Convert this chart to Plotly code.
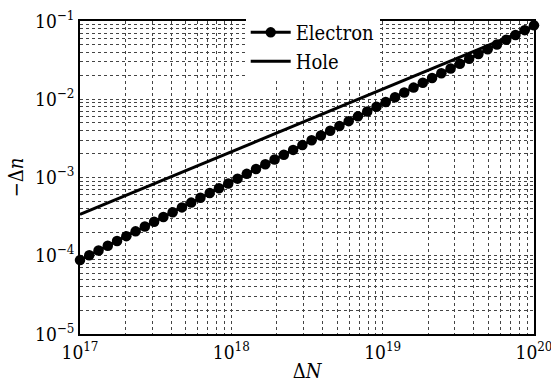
import plotly.graph_objects as go

# Injected carrier density (cm^-3), 50 log-spaced samples from 1e17 to 1e20
delta_N = [
    1.000e17, 1.151e17, 1.326e17, 1.526e17, 1.757e17, 2.024e17, 2.330e17, 2.683e17, 3.089e17, 3.556e17,
    4.095e17, 4.715e17, 5.429e17, 6.250e17, 7.197e17, 8.286e17, 9.541e17, 1.099e18, 1.265e18, 1.456e18,
    1.677e18, 1.931e18, 2.223e18, 2.560e18, 2.947e18, 3.393e18, 3.907e18, 4.498e18, 5.179e18, 5.964e18,
    6.866e18, 7.906e18, 9.103e18, 1.048e19, 1.207e19, 1.389e19, 1.600e19, 1.842e19, 2.121e19, 2.442e19,
    2.812e19, 3.237e19, 3.728e19, 4.292e19, 4.942e19, 5.690e19, 6.551e19, 7.543e19, 8.685e19, 1.000e20,
]

# Index change (magnitude) due to free electrons
electron_dn = [
    8.80e-5, 1.013e-4, 1.167e-4, 1.343e-4, 1.547e-4, 1.781e-4, 2.050e-4, 2.361e-4, 2.718e-4, 3.129e-4,
    3.604e-4, 4.149e-4, 4.778e-4, 5.501e-4, 6.333e-4, 7.292e-4, 8.396e-4, 9.670e-4, 1.113e-3, 1.281e-3,
    1.476e-3, 1.699e-3, 1.956e-3, 2.253e-3, 2.593e-3, 2.986e-3, 3.438e-3, 3.958e-3, 4.558e-3, 5.248e-3,
    6.042e-3, 6.957e-3, 8.011e-3, 9.222e-3, 1.062e-2, 1.222e-2, 1.408e-2, 1.621e-2, 1.866e-2, 2.149e-2,
    2.475e-2, 2.849e-2, 3.281e-2, 3.777e-2, 4.349e-2, 5.007e-2, 5.765e-2, 6.638e-2, 7.643e-2, 8.800e-2,
]

# Index change (magnitude) due to holes, one point per decade
hole_N = [1e17, 1e18, 1e19, 1e20]
hole_dn = [3.38e-4, 2.14e-3, 1.35e-2, 8.50e-2]

# Tick positions and labels
x_ticks = [1e17, 1e18, 1e19, 1e20]
x_labels = ["10<sup>17</sup>", "10<sup>18</sup>", "10<sup>19</sup>", "10<sup>20</sup>"]
y_ticks = [1e-5, 1e-4, 1e-3, 1e-2, 1e-1]
y_labels = ["10<sup>−5</sup>", "10<sup>−4</sup>", "10<sup>−3</sup>", "10<sup>−2</sup>", "10<sup>−1</sup>"]

FONT = "DejaVu Serif Condensed, DejaVu Serif"

fig = go.Figure()
fig.add_trace(go.Scatter(
    x=delta_N, y=electron_dn, name="Electron", mode="lines+markers",
    line=dict(color="black", width=3),
    marker=dict(color="black", size=10.5, symbol="circle"),
    cliponaxis=False,
))
fig.add_trace(go.Scatter(
    x=hole_N, y=hole_dn, name="Hole", mode="lines",
    line=dict(color="black", width=3),
    cliponaxis=False,
))

grid = dict(gridcolor="#444", griddash="dot", gridwidth=1)

fig.update_xaxes(
    type="log", range=[17, 20], tickvals=x_ticks, ticktext=x_labels,
    ticklabeloverflow="allow",
    showline=True, linecolor="black", linewidth=1.5, mirror=True,
    showgrid=True, **grid,
    minor=dict(showgrid=True, dtick="D1", **grid),
    tickfont=dict(family=FONT, size=19, color="black"),
    title=dict(text="Δ<i>N</i>", font=dict(family=FONT, size=20, color="black"), standoff=4),
    zeroline=False,
)
fig.update_yaxes(
    type="log", range=[-5, -1], tickvals=y_ticks, ticktext=y_labels,
    ticklabeloverflow="allow",
    showline=True, linecolor="black", linewidth=1.5, mirror=True,
    showgrid=True, **grid,
    minor=dict(showgrid=True, dtick="D1", **grid),
    tickfont=dict(family=FONT, size=19, color="black"),
    title=dict(text="−Δ<i>n</i>", font=dict(family=FONT, size=20, color="black"), standoff=6),
    zeroline=False,
)

fig.update_layout(
    width=551, height=383,
    margin=dict(l=80, r=17, t=21, b=49, autoexpand=False),
    paper_bgcolor="white", plot_bgcolor="white",
    font=dict(family=FONT, color="black"),
    legend=dict(
        x=0.365, y=1.026, xanchor="left", yanchor="top",
        bgcolor="white", borderwidth=0,
        font=dict(family=FONT, size=20, color="black"),
        itemwidth=40, tracegroupgap=0,
    ),
    showlegend=True,
)

fig.write_html("out.html")
